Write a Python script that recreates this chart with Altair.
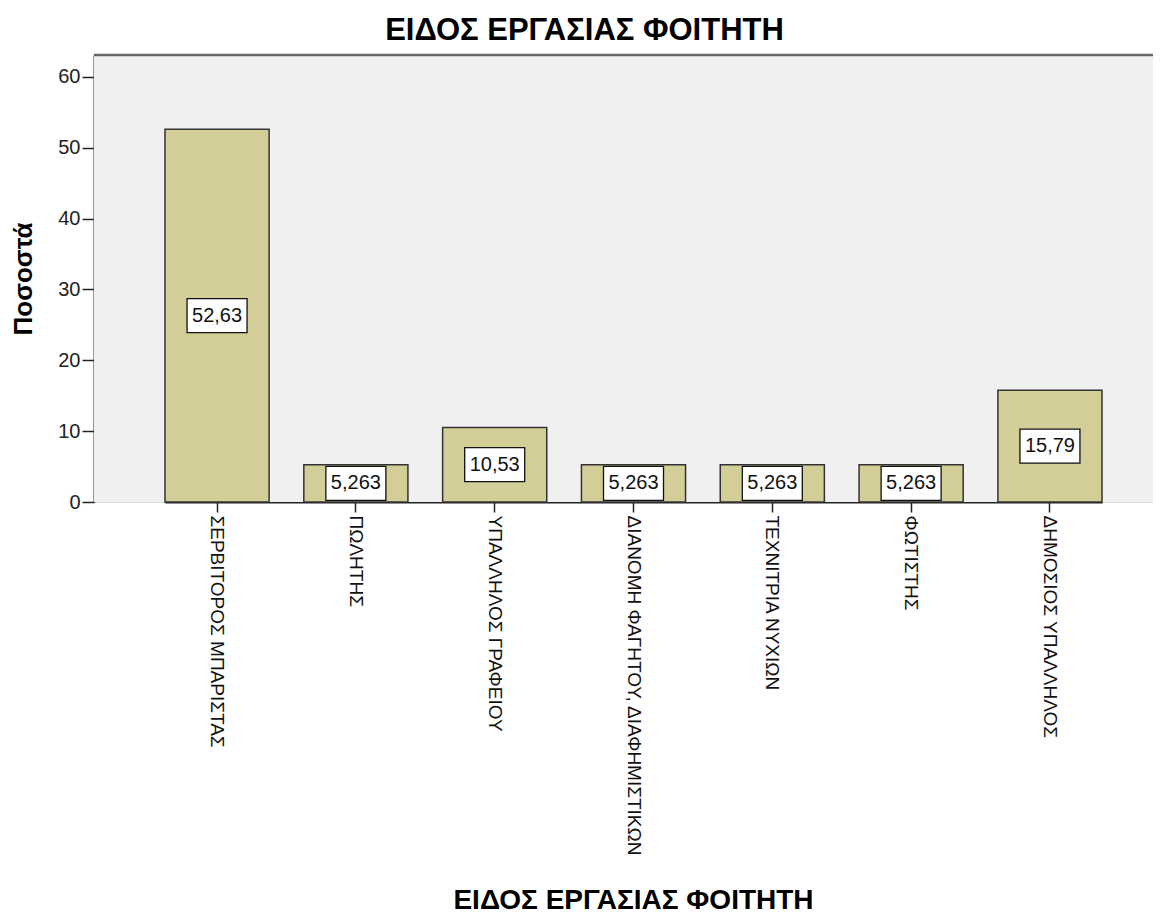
import altair as alt
import pandas as pd

categories = [
    "ΣΕΡΒΙΤΟΡΟΣ ΜΠΑΡΙΣΤΑΣ",
    "ΠΩΛΗΤΗΣ",
    "ΥΠΑΛΛΗΛΟΣ ΓΡΑΦΕΙΟΥ",
    "ΔΙΑΝΟΜΗ ΦΑΓΗΤΟΥ, ΔΙΑΦΗΜΙΣΤΙΚΩΝ",
    "ΤΕΧΝΙΤΡΙΑ ΝΥΧΙΩΝ",
    "ΦΩΤΙΣΤΗΣ",
    "ΔΗΜΟΣΙΟΣ ΥΠΑΛΛΗΛΟΣ",
]
percent = [52.63, 5.263, 10.53, 5.263, 5.263, 5.263, 15.79]
value_labels = ["52,63", "5,263", "10,53", "5,263", "5,263", "5,263", "15,79"]
y_ticks = [0, 10, 20, 30, 40, 50, 60]

df = pd.DataFrame({"cat": categories, "pct": percent, "lab": value_labels})

W, H = 1059, 447
FONT = "Liberation Sans"
TITLE = "ΕΙΔΟΣ ΕΡΓΑΣΙΑΣ ΦΟΙΤΗΤΗ"

xscale = alt.Scale(range=[71, 1008], paddingInner=0.25, paddingOuter=0)
yscale = alt.Scale(domain=[0, 63.1], nice=False, zero=True)

xaxis = alt.Axis(
    labelAngle=90, labelFontSize=19, labelFont=FONT, labelColor="#111",
    labelPadding=3, labelLimit=600, tickSize=10, tickColor="#222", tickWidth=1.5,
    domainColor="#222", domainWidth=2,
    titleFont=FONT, titleFontSize=28, titleFontWeight="bold", titleColor="#000",
    titleX=539, titleY=406, titleBaseline="alphabetic", titleAlign="center",
)
yaxis = alt.Axis(
    values=y_ticks, grid=False, labelFontSize=20, labelFont=FONT, labelColor="#222",
    labelPadding=2, tickSize=12, tickColor="#222", tickWidth=1.5,
    domainColor="#333", domainWidth=2,
    title="Ποσοστά", titleFont=FONT, titleFontSize=26, titleFontWeight="bold",
    titleColor="#000", titlePadding=21,
)

base = alt.Chart(df)

bg = alt.Chart(pd.DataFrame({"k": [0]})).mark_rect(fill="#F0F0F0").encode(
    x=alt.value(0), x2=alt.value(W), y=alt.value(0), y2=alt.value(H)
)

bars = base.mark_bar(fill="#D3CE97", stroke="#333", strokeWidth=1.5).encode(
    x=alt.X("cat:N", sort=None, title=TITLE, scale=xscale, axis=xaxis),
    y=alt.Y("pct:Q", scale=yscale, axis=yaxis),
)

mid = base.transform_calculate(half="datum.pct / 2")

boxes = mid.mark_point(
    shape="M-1,-0.567L1,-0.567L1,0.567L-1,0.567Z", size=3600,
    filled=True, fill="white", stroke="#111", strokeWidth=1.3, opacity=1,
).encode(
    x=alt.X("cat:N", sort=None, scale=xscale),
    y=alt.Y("half:Q", scale=yscale),
)

texts = mid.mark_text(font=FONT, fontSize=20, color="#111", baseline="middle", align="center").encode(
    x=alt.X("cat:N", sort=None, scale=xscale),
    y=alt.Y("half:Q", scale=yscale),
    text="lab:N",
)

top_border = alt.Chart(pd.DataFrame({"k": [0]})).mark_rule(color="#666", strokeWidth=2.5).encode(
    x=alt.value(0), x2=alt.value(W), y=alt.value(0)
)

chart = alt.layer(bg, bars, boxes, texts, top_border).properties(
    width=W, height=H,
    autosize=alt.AutoSizeParams(type="none"),
    padding={"left": 86, "top": 47, "right": 0, "bottom": 415},
    title=alt.TitleParams(text=TITLE, font=FONT, fontSize=31, fontWeight="bold",
                          color="#000", anchor="middle", dx=-39, offset=7),
).configure_view(strokeWidth=0).configure(background="white")

chart.save("out.html", embed_options={"renderer": "svg", "actions": False})
